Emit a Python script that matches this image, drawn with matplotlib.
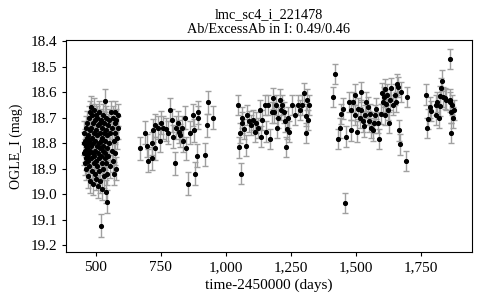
import matplotlib
matplotlib.use("Agg")
import matplotlib.pyplot as plt
import numpy as np

plt.rcParams['font.family'] = ['Liberation Serif', 'DejaVu Serif']

title = "lmc_sc4_i_221478\nAb/ExcessAb in I: 0.49/0.46"
xlabel = "time-2450000 (days)"
ylabel = "OGLE_I (mag)"

# season 1 (dense)
t1 = [455, 456, 457, 458, 459, 460, 461, 462, 463, 464, 465, 466, 467, 468, 469, 470,
      471, 472, 473, 474, 475, 476, 477, 478, 479, 480, 481, 482, 483, 484, 485, 486,
      487, 488, 489, 490, 491, 492, 493, 494, 495, 496, 497, 498, 499, 500, 501, 502,
      503, 504, 505, 506, 507, 508, 509, 510, 511, 512, 513, 514, 515, 516, 517, 518,
      519, 520, 521, 522, 523, 524, 525, 526, 527, 528, 529, 530, 531, 532, 533, 534,
      535, 536, 537, 538, 539, 540, 541, 542, 543, 544, 545, 547, 549, 551, 553, 555,
      557, 559, 561, 563, 565, 567, 569, 571, 573, 574, 575, 576, 578, 580, 582, 584, 586]
m1 = [18.80, 18.84, 18.76, 18.88, 18.79, 18.83, 18.86, 18.74, 18.81, 18.90, 18.78, 18.85,
      18.72, 18.82, 18.87, 18.77, 18.93, 18.80, 18.84, 18.70, 18.79, 18.89, 18.75, 18.83,
      18.95, 18.68, 18.81, 18.66, 18.86, 18.74, 18.91, 18.78, 18.69, 18.84, 18.96, 18.72,
      18.80, 18.88, 18.67, 18.76, 18.85, 18.92, 18.71, 18.79, 18.83, 18.69, 18.87, 18.94,
      18.75, 18.81, 18.70, 18.89, 18.77, 18.84, 18.97, 18.73, 18.80, 18.68, 18.86, 18.91,
      18.76, 18.82, 18.72, 18.95, 18.79, 19.125, 18.85, 18.71, 18.88, 18.78, 18.98, 18.74,
      18.83, 18.69, 18.90, 18.81, 18.76, 18.93, 18.72, 18.86, 18.79, 18.635, 18.84, 18.99,
      18.75, 18.88, 18.70, 18.82, 19.03, 18.77, 18.92, 18.73, 18.85, 18.80, 18.71, 18.89,
      18.76, 18.68, 18.83, 18.74, 18.87, 18.70, 18.79, 18.92, 18.68, 18.76, 18.84, 18.72,
      18.90, 18.71, 18.78, 18.69, 18.74]

# season 2
t2 = [670, 689, 698, 702, 715, 715, 721, 728, 730, 740, 747, 753, 760, 770, 779, 785,
      792, 798, 805, 807, 817, 821, 826, 830, 834, 843, 849, 856, 862, 875, 879, 881,
      888, 894, 894, 920, 929, 932, 951]
m2 = [18.82, 18.76, 18.81, 18.87, 18.80, 18.86, 18.75, 18.73, 18.82, 18.74, 18.79, 18.72,
      18.74, 18.745, 18.76, 18.67, 18.71, 18.775, 18.88, 18.74, 18.72, 18.755, 18.77, 18.74,
      18.79, 18.70, 18.82, 18.96, 18.76, 18.69, 18.75, 18.92, 18.85, 18.68, 18.70, 18.845,
      18.73, 18.64, 18.70]

# season 3
t3 = [1048, 1051, 1054, 1057, 1061, 1064, 1069, 1077, 1082, 1090, 1099, 1105, 1112, 1118,
      1124, 1131, 1137, 1141, 1150, 1154, 1163, 1169, 1176, 1180, 1185, 1192, 1197, 1201,
      1208, 1214, 1218, 1223, 1227, 1233, 1236, 1240, 1244, 1253, 1265, 1278, 1285, 1295,
      1300, 1308, 1310, 1313, 1318, 1320]
m3 = [18.65, 18.817, 18.76, 18.92, 18.70, 18.72, 18.745, 18.81, 18.69, 18.715, 18.73, 18.71,
      18.755, 18.72, 18.74, 18.67, 18.775, 18.71, 18.65, 18.755, 18.65, 18.785, 18.68, 18.625,
      18.68, 18.65, 18.74, 18.70, 18.63, 18.67, 18.65, 18.68, 18.715, 18.815, 18.745, 18.70,
      18.755, 18.65, 18.69, 18.65, 18.67, 18.65, 18.605, 18.695, 18.76, 18.63, 18.71, 18.65]

# season 4
t4 = [1412, 1419, 1432, 1438, 1442, 1451, 1460, 1463, 1473, 1480, 1483, 1489, 1496, 1498,
      1506, 1508, 1515, 1519, 1521, 1528, 1532, 1537, 1541, 1545, 1550, 1554, 1560, 1566,
      1570, 1575, 1579, 1586, 1589, 1596, 1601, 1605, 1608, 1611, 1614, 1617, 1621, 1624,
      1626, 1630, 1637, 1643, 1649, 1656, 1659, 1662, 1666, 1668, 1672, 1694, 1697]
m4 = [18.62, 18.53, 18.785, 18.74, 18.685, 18.665, 19.035, 18.775, 18.64, 18.75, 18.67, 18.64,
      18.69, 18.61, 18.755, 18.665, 18.70, 18.60, 18.67, 18.715, 18.735, 18.69, 18.64, 18.66,
      18.715, 18.685, 18.74, 18.75, 18.72, 18.69, 18.665, 18.72, 18.785, 18.685, 18.605, 18.64,
      18.62, 18.69, 18.59, 18.645, 18.61, 18.67, 18.72, 18.63, 18.585, 18.65, 18.61, 18.64,
      18.57, 18.58, 18.75, 18.805, 18.60, 18.87, 18.62]

# season 5
t5 = [1771, 1773, 1777, 1786, 1790, 1807, 1810, 1814, 1818, 1822, 1825, 1829, 1830, 1835,
      1841, 1848, 1861, 1863, 1863, 1867, 1867, 1871, 1873, 1876]
m5 = [18.61, 18.74, 18.705, 18.66, 18.675, 18.69, 18.65, 18.64, 18.70, 18.655, 18.615, 18.585,
      18.555, 18.62, 18.625, 18.63, 18.63, 18.47, 18.64, 18.68, 18.76, 18.65, 18.70, 18.67]

# typical photometric error per season
season_err = [0.045, 0.045, 0.04, 0.04, 0.04]

fig = plt.figure(figsize=(4.8, 3.0), dpi=100)
ax = fig.add_axes([0.1375, 0.16, 0.8455, 0.7067])

for t, m, e in zip([t1, t2, t3, t4, t5], [m1, m2, m3, m4, m5], season_err):
    ax.errorbar(t, m, yerr=e, fmt='o', color='black', markersize=2.7,
                ecolor='#a0a0a0', elinewidth=1, capsize=2, capthick=1)

ax.set_xlim(386, 1946)
ax.set_ylim(19.227, 18.396)
ax.set_xticks([500, 750, 1000, 1250, 1500, 1750])
ax.set_xticklabels(["500", "750", "1,000", "1,250", "1,500", "1,750"])
ax.set_yticks(np.arange(18.4, 19.21, 0.1))
ax.set_yticklabels([f"{v:.1f}" for v in np.arange(18.4, 19.21, 0.1)])
ax.tick_params(labelsize=11, length=3, direction='out')
ax.set_xlabel(xlabel, fontsize=11, labelpad=3)
ax.set_ylabel(ylabel, fontsize=10, labelpad=5)
ax.set_title(title, fontsize=10.3, linespacing=1.2, pad=5)

fig.savefig("out.png", dpi=100)
